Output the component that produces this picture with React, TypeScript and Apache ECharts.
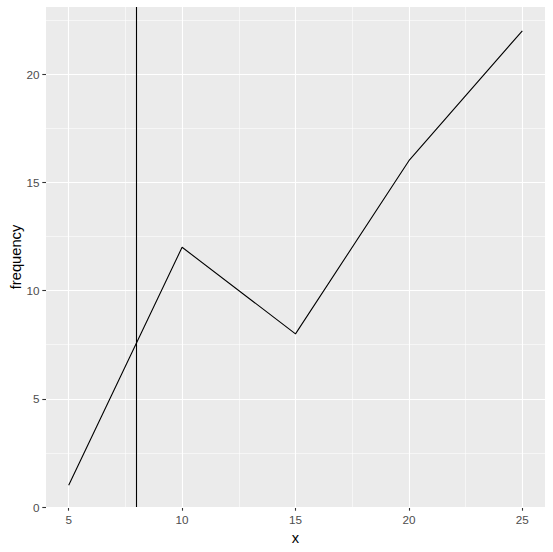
import React, { useEffect, useRef } from "react";
import * as echarts from "echarts";

const xValues = [5, 10, 15, 20, 25];
const frequency = [1, 12, 8, 16, 22];
const xTicks = [5, 10, 15, 20, 25];
const yTicks = [0, 5, 10, 15, 20];
const xMinor = [7.5, 12.5, 17.5, 22.5];
const yMinor = [2.5, 7.5, 12.5, 17.5, 22.5];
const vlineX = 8;

export default function App() {
  const ref = useRef<HTMLDivElement>(null);
  useEffect(() => {
    if (!ref.current) return;
    const chart = echarts.init(ref.current, null, { renderer: "svg" });
    const font = "'Liberation Sans', Arial, sans-serif";
    const gridLines: any[] = [
      ...xMinor.map((v) => ({ xAxis: v, lineStyle: { color: "#fff", width: 0.55, type: "solid" } })),
      ...yMinor.map((v) => ({ yAxis: v, lineStyle: { color: "#fff", width: 0.55, type: "solid" } })),
      ...xTicks.map((v) => ({ xAxis: v, lineStyle: { color: "#fff", width: 1.1, type: "solid" } })),
      ...yTicks.map((v) => ({ yAxis: v, lineStyle: { color: "#fff", width: 1.1, type: "solid" } })),
    ];
    const axisLabelBase = {
      color: "#4D4D4D",
      fontSize: 11.7,
      fontFamily: font,
      margin: 6.6,
    };
    chart.setOption({
      animation: false,
      grid: {
        left: 46,
        right: 8,
        top: 7,
        bottom: 45,
        show: true,
        backgroundColor: "#EBEBEB",
        borderWidth: 0,
        containLabel: false,
        outerBoundsMode: "none",
      },
      xAxis: {
        type: "value",
        min: 4,
        max: 26,
        name: "x",
        nameLocation: "middle",
        nameGap: 23,
        nameTextStyle: { color: "#000", fontSize: 14.7, fontFamily: font },
        axisLine: { show: false },
        axisTick: { show: true, length: 3.7, lineStyle: { color: "#333", width: 1.1 }, customValues: xTicks },
        axisLabel: { ...axisLabelBase, customValues: xTicks },
        splitLine: { show: false },
      },
      yAxis: {
        type: "value",
        min: 0,
        max: 23.1,
        name: "frequency",
        nameLocation: "middle",
        nameGap: 23,
        nameMoveOverlap: false,
        nameTextStyle: { color: "#000", fontSize: 14.7, fontFamily: font },
        axisLine: { show: false },
        axisTick: { show: true, length: 3.7, lineStyle: { color: "#333", width: 1.1 }, customValues: yTicks },
        axisLabel: { ...axisLabelBase, customValues: yTicks },
        splitLine: { show: false },
      },
      series: [
        {
          type: "line",
          data: xValues.map((x, i) => [x, frequency[i]]),
          showSymbol: false,
          silent: true,
          lineStyle: { opacity: 0, width: 0 },
          z: 1,
          markLine: {
            silent: true,
            z: 1,
            symbol: "none",
            label: { show: false },
            emphasis: { disabled: true },
            data: gridLines,
          },
        },
        {
          type: "line",
          data: xValues.map((x, i) => [x, frequency[i]]),
          showSymbol: false,
          silent: true,
          lineStyle: { color: "#000", width: 1.1 },
          z: 3,
          markLine: {
            silent: true,
            z: 4,
            symbol: "none",
            label: { show: false },
            emphasis: { disabled: true },
            data: [{ xAxis: vlineX, lineStyle: { color: "#000", width: 1.1, type: "solid" } }],
          },
        },
      ],
    });
    return () => chart.dispose();
  }, []);
  return <div ref={ref} style={{ width: 553, height: 552, position: "absolute", left: 0, top: 0 }} />;
}
